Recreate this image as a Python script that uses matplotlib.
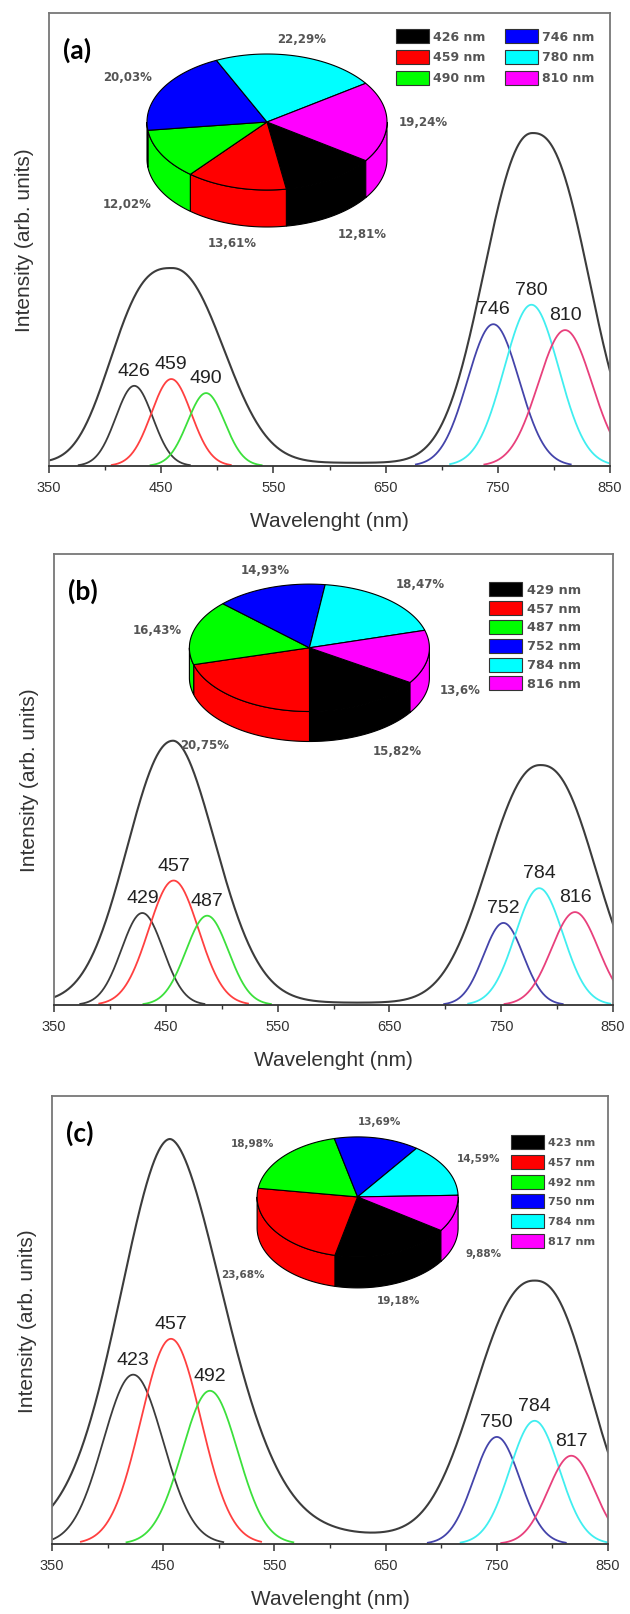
import numpy as np
import matplotlib
matplotlib.use('Agg')
import matplotlib.pyplot as plt
from matplotlib.patches import Polygon, Rectangle

plt.rcParams['font.family'] = ['Liberation Sans', 'DejaVu Sans']

# ---- values (intensities as fraction of plot height) ----
line_colors = ['#3c3c3c', '#ff4040', '#3ce03c', '#4444aa', '#40eef0', '#e8407c']
fill_colors = ['#000000', '#ff0000', '#00ff00', '#0000ff', '#00ffff', '#ff00ff']

# panel (a)
a_peaks = [426, 459, 490, 746, 780, 810]
a_heights = [0.177, 0.192, 0.161, 0.313, 0.356, 0.300]
a_sigmas = [16.5, 17.8, 16.5, 23.0, 24.3, 24.0]
a_shares = [12.81, 13.61, 12.02, 20.03, 22.29, 19.24]
a_env_center = [459.5, 781]
a_env_height = [0.430, 0.728]
a_env_hwhm_left = [56.5, 48.4]
a_env_hwhm_right = [52.0, 54.0]
a_env_p_left = [2.8, 2.2]
a_env_p_right = [2.2, 2.5]
a_env_floor = 0.007

# panel (b)
b_peaks = [429, 457, 487, 752, 784, 816]
b_heights = [0.204, 0.276, 0.198, 0.182, 0.259, 0.206]
b_sigmas = [18.6, 22.3, 19.0, 17.8, 21.3, 21.0]
b_shares = [15.82, 20.75, 16.43, 14.93, 18.47, 13.6]
b_env_center = [456.5, 785]
b_env_height = [0.581, 0.527]
b_env_hwhm_left = [47.0, 52.8]
b_env_hwhm_right = [45.0, 53.5]
b_env_p_left = [2.1, 2.2]
b_env_p_right = [1.9, 2.4]
b_env_floor = 0.005

# panel (c)
c_peaks = [423, 457, 492, 750, 784, 817]
c_heights = [0.378, 0.458, 0.342, 0.239, 0.275, 0.197]
c_sigmas = [27.0, 27.0, 25.0, 20.8, 22.3, 21.0]
c_shares = [19.18, 23.68, 18.98, 13.69, 14.59, 9.88]
c_env_center = [456, 784]
c_env_height = [0.884, 0.568]
c_env_hwhm_left = [52.6, 59.0]
c_env_hwhm_right = [57.0, 54.0]
c_env_p_left = [1.9, 2.3]
c_env_p_right = [1.8, 2.4]
c_env_floor = 0.02

W, H = 630, 1615


def band(x, c, h, wl, wr, pl, pr):
    d = x - c
    w = np.where(d < 0, wl, wr)
    p = np.where(d < 0, pl, pr)
    return h * 2.0 ** (-(np.abs(d) / w) ** p)


def spectrum_panel(box, tag, peaks, heights, sigmas, env_c, env_h, env_wl, env_wr,
                   env_pl, env_pr, floor):
    left, top, right, bottom = box
    ax = fig.add_axes([left / W, 1 - bottom / H, (right - left) / W, (bottom - top) / H])
    x = np.linspace(350, 850, 1001)
    env = floor + sum(band(x, *p) for p in zip(env_c, env_h, env_wl, env_wr, env_pl, env_pr))
    ax.plot(x, env, color='#3c3c3c', lw=1.5)
    for c, h, s, col in zip(peaks, heights, sigmas, line_colors):
        xs = x[np.abs(x - c) <= 3 * s]
        ax.plot(xs, h * np.exp(-0.5 * ((xs - c) / s) ** 2), color=col, lw=1.3)
        ax.annotate(str(c), (c, h), xytext=(0, 5), textcoords='offset points',
                    ha='center', va='bottom', fontsize=14, color='#222')
    ax.set_xlim(350, 850)
    ax.set_ylim(0, 1)
    ax.set_xticks(np.arange(350, 851, 100))
    ax.set_xticks(np.arange(400, 851, 100), minor=True)
    ax.set_yticks([])
    ax.tick_params(axis='x', which='major', length=4.8, width=1.1, pad=5.5,
                   labelsize=10.5, colors='#333')
    ax.tick_params(axis='x', which='minor', length=2.6, width=1.0, colors='#333')
    for side, sp in ax.spines.items():
        sp.set_color('#333' if side == 'bottom' else '#777')
        sp.set_linewidth(1.3)
    ax.set_xlabel('Wavelenght (nm)', fontsize=15, color='#333')
    ax.set_ylabel('Intensity (arb. units)', fontsize=15, color='#333')
    ax.xaxis.set_label_coords(0.5, -45 / (bottom - top))
    ax.yaxis.set_label_coords(-15 / (right - left), 0.5)
    ax.text(0.025, 0.92, tag, transform=ax.transAxes, fontsize=19, fontweight='bold',
            family=['Lato', 'DejaVu Sans'], va='center', ha='left')
    return ax


def pie3d(ov, shares, cx, cy, a, b, depth, start, fs, pad=12):
    t1 = start
    slices = []
    for p, col in zip(shares, fill_colors):
        t2 = t1 - p * 3.6
        slices.append((t2, t1, col, p))
        t1 = t2
    # front side wall
    for lo, hi, col, _ in slices:
        for k in range(-2, 2):
            s, e = max(lo, -180 + 360 * k), min(hi, 360 * k)
            if e > s:
                tt = np.radians(np.linspace(s, e, 60))
                xs = cx + a * np.cos(tt)
                ys = cy - b * np.sin(tt)
                poly = np.concatenate([np.c_[xs, ys], np.c_[xs[::-1], ys[::-1] + depth]])
                ov.add_patch(Polygon(poly, closed=True, fc=col, ec='k', lw=0.8))
    # top face
    for lo, hi, col, _ in slices:
        tt = np.radians(np.linspace(lo, hi, 100))
        pts = np.r_[[[cx, cy]], np.c_[cx + a * np.cos(tt), cy - b * np.sin(tt)]]
        ov.add_patch(Polygon(pts, closed=True, fc=col, ec='k', lw=0.8))
    # percentage labels
    for lo, hi, col, p in slices:
        m = np.radians((lo + hi) / 2)
        c, s = np.cos(m), np.sin(m)
        x = cx + (a + pad) * c
        y = cy - (b + pad) * s + (depth if s < 0 else 0)
        ha = 'left' if c > 0.4 else ('right' if c < -0.4 else 'center')
        va = 'bottom' if s > 0.25 else ('top' if s < -0.25 else 'center')
        ov.text(x, y, f"{p:g}".replace('.', ',') + '%', fontsize=fs, ha=ha, va=va,
                color='#555', family='DejaVu Sans', fontweight='bold')


def legend_block(ov, peaks, x0, y0, dy, rows, col_dx, fs, gap=4):
    for i, (pk, col) in enumerate(zip(peaks, fill_colors)):
        cidx, r = divmod(i, rows)
        x = x0 + cidx * col_dx
        y = y0 + r * dy
        ov.add_patch(Rectangle((x, y - 7), 33, 14, fc=col, ec='#333', lw=0.8))
        ov.text(x + 33 + gap, y, f"{pk} nm", fontsize=fs, ha='left', va='center',
                color='#555', family='DejaVu Sans', fontweight='bold')


fig = plt.figure(figsize=(W / 100, H / 100), dpi=100)

spectrum_panel((49, 14, 610, 467), '(a)', a_peaks, a_heights, a_sigmas, a_env_center,
               a_env_height, a_env_hwhm_left, a_env_hwhm_right, a_env_p_left,
               a_env_p_right, a_env_floor)
spectrum_panel((54, 555, 613, 1006), '(b)', b_peaks, b_heights, b_sigmas, b_env_center,
               b_env_height, b_env_hwhm_left, b_env_hwhm_right, b_env_p_left,
               b_env_p_right, b_env_floor)
spectrum_panel((52, 1097, 608, 1545), '(c)', c_peaks, c_heights, c_sigmas, c_env_center,
               c_env_height, c_env_hwhm_left, c_env_hwhm_right, c_env_p_left,
               c_env_p_right, c_env_floor)

# overlay in pixel coordinates for the inset pies and legends
ov = fig.add_axes([0, 0, 1, 1], zorder=10)
ov.set_xlim(0, W)
ov.set_ylim(H, 0)
ov.axis('off')
ov.patch.set_visible(False)

pie3d(ov, a_shares, 267, 123, 120, 68, 37, -34.6, 8.5)
pie3d(ov, b_shares, 309.4, 648.8, 120, 63.7, 30, -33, 8.5)
pie3d(ov, c_shares, 357.6, 1197.9, 100.5, 60, 31, -34, 7.5)

legend_block(ov, a_peaks, 395.6, 37.2, 20.7, 3, 109.4, 9)
legend_block(ov, b_peaks, 489, 590.3, 18.8, 6, 0, 9.3, gap=5)
legend_block(ov, c_peaks, 511, 1143, 19.8, 6, 0, 8.1)

fig.savefig('out.png', dpi=100)
